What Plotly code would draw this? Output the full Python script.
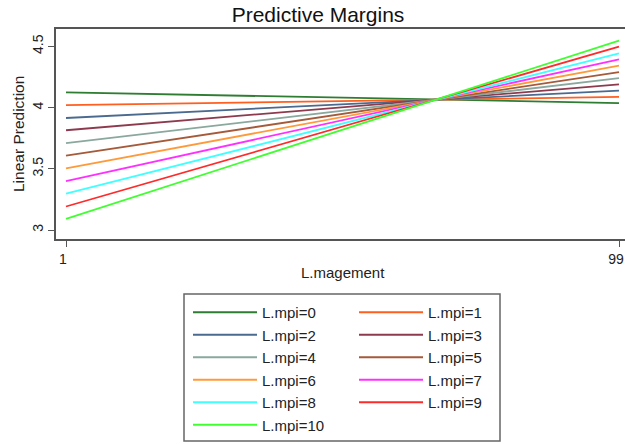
import plotly.graph_objects as go

# Data
x_vals = [1, 99]
mpi_levels = [0, 1, 2, 3, 4, 5, 6, 7, 8, 9, 10]
pred_at_1 = [4.125, 4.02, 3.915, 3.815, 3.71, 3.607, 3.504, 3.40, 3.297, 3.192, 3.09]
pred_at_99 = [4.037, 4.087, 4.138, 4.19, 4.24, 4.29, 4.343, 4.394, 4.443, 4.498, 4.548]
colors = ["#2f7d32", "#ff5f1f", "#4a6a8f", "#8e3a4e", "#8aa89e", "#a55a3a",
          "#ff9a3a", "#ff30ff", "#40ffff", "#ff2a2a", "#40ff30"]
x_ticks = [1, 99]
y_ticks = [3, 3.5, 4, 4.5]
y_ticklabels = ["3", "3.5", "4", "4.5"]

W, H = 625, 444
L, R, T, B = 56, 0, 29, 205
pw, ph = W - L - R, H - T - B

def px2paper_x(px):
    return (px - L) / pw

def px2paper_y(py):
    return (H - B - py) / ph

fig = go.Figure()
for i, lvl in enumerate(mpi_levels):
    fig.add_trace(go.Scatter(
        x=x_vals, y=[pred_at_1[i], pred_at_99[i]], mode="lines",
        line=dict(color=colors[i], width=1.8),
        name=f"L.mpi={lvl}",
        legend="legend" if lvl % 2 == 0 else "legend2",
        showlegend=True,
    ))

font = "Liberation Sans, Arial, Helvetica, sans-serif"
leg_common = dict(
    xref="container", yref="container", yanchor="top", xanchor="left",
    bgcolor="rgba(0,0,0,0)", borderwidth=0,
    font=dict(family=font, size=15, color="#222"),
    itemwidth=64, tracegroupgap=0,
)

fig.update_layout(
    width=W, height=H,
    margin=dict(l=L, r=R, t=T, b=B, pad=0, autoexpand=False),
    paper_bgcolor="white", plot_bgcolor="white",
    font=dict(family=font, size=14, color="#222"),
    title=dict(text="Predictive Margins", x=318 / W, xref="container", xanchor="center",
               y=1 - 15 / H, yref="container", yanchor="middle",
               font=dict(family=font, size=21, color="#111")),
    xaxis=dict(
        range=[1 - 10 / (553 / 98), 1 + (W - 66) / (553 / 98)],
        tickvals=x_ticks, ticktext=[str(v) for v in x_ticks],
        ticks="outside", ticklen=6, tickcolor="#555", tickwidth=1.2,
        showline=True, linecolor="#555", linewidth=1.6, mirror=True,
        showgrid=False, zeroline=False, automargin=False,
        ticklabeloverflow="allow", ticklabelshift=-3,
        tickfont=dict(family=font, size=14),
    ),
    yaxis=dict(
        range=[3 - 9 / 122.4, 3 + (230 - 29) / 122.4],
        tickvals=y_ticks, ticktext=y_ticklabels, tickangle=-90,
        ticks="outside", ticklen=6, tickcolor="#555", tickwidth=1.2,
        showline=True, linecolor="#555", linewidth=1.6, mirror=False,
        showgrid=False, zeroline=False, automargin=False,
        ticklabeloverflow="allow",
        tickfont=dict(family=font, size=14),
    ),
    legend=dict(x=188 / W, y=1 - 296 / H, **leg_common),
    legend2=dict(x=354 / W, y=1 - 296 / H, **leg_common),
    shapes=[dict(type="rect", xref="paper", yref="paper",
                 x0=px2paper_x(184), x1=px2paper_x(500),
                 y0=px2paper_y(441), y1=px2paper_y(294),
                 line=dict(color="#666", width=1.5), fillcolor="rgba(0,0,0,0)")],
    annotations=[
        dict(text="L.magement", xref="paper", yref="paper",
             x=px2paper_x(343), y=px2paper_y(272), xanchor="center", yanchor="middle",
             showarrow=False, font=dict(family=font, size=15, color="#222")),
        dict(text="Linear Prediction", xref="paper", yref="paper", textangle=-90,
             x=px2paper_x(18), y=px2paper_y(134), xanchor="center", yanchor="middle",
             showarrow=False, font=dict(family=font, size=15.5, color="#222")),
    ],
)

fig.write_html("out.html", config={"displayModeBar": False},
               post_script="document.body.style.margin='0px';")
